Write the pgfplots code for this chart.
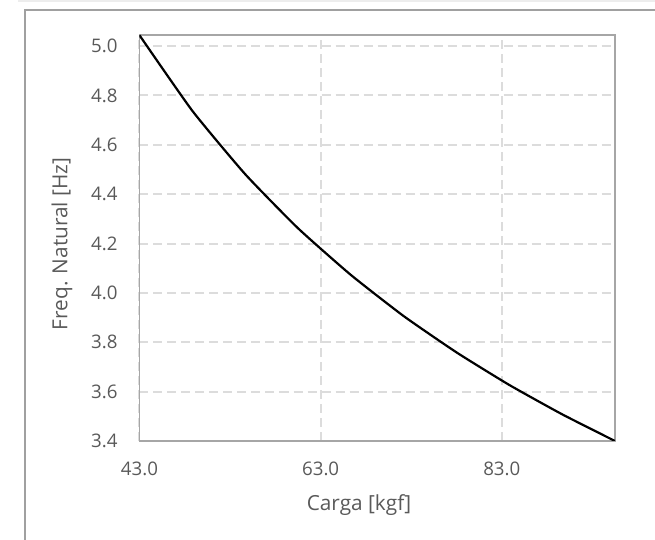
\documentclass[border=0pt]{standalone}
\usepackage{pgfplots}
\pgfplotsset{compat=1.18}
\usepackage{fontspec}
\setmainfont{Open Sans}
\definecolor{txt}{HTML}{595959}
\definecolor{gridc}{HTML}{DCDCDC}
\definecolor{axc}{HTML}{A6A6A6}
\definecolor{border}{HTML}{A0A0A0}
\begin{document}
\begin{tikzpicture}[x=0.5pt,y=0.5pt]
\useasboundingbox (0,0) rectangle (655,540);
\coordinate (A) at (139.5,99);
\draw[color=black!7, line width=0.8pt] (18,539) -- (660,539);
\draw[color=border, line width=1.1pt] (25,-10) -- (25,530) -- (665,530);
\begin{axis}[
  at={(A)}, anchor=south west,
  scale only axis, width=237.75pt, height=203pt,
  xmin=43, xmax=95.5, ymin=3.4, ymax=5.045,
  xtick={43,63,83}, ytick={3.4,3.6,...,5.01},
  xticklabels={43.0,63.0,83.0},
  yticklabel={\pgfmathprintnumber[fixed,fixed zerofill,precision=1]{\tick}},
  /pgf/number format/assume math mode=true,
  major tick length=0pt,
  grid=major,
  major grid style={color=gridc, line width=1pt, dash pattern=on 4.5pt off 2.5pt},
  axis line style={color=axc, line width=0.75pt},
  tick label style={font=\fontsize{9.35}{11}\selectfont, text=txt, inner sep=0pt},
  yticklabel style={anchor=east, xshift=-10.75pt},
  xticklabel style={anchor=center, yshift=-14pt},
  clip=true,
]
\addplot[black, line width=1.1pt, smooth, tension=0.3] coordinates {
(43.00,5.044) (48.83,4.738) (54.67,4.481) (60.50,4.262) (66.33,4.073)
(72.17,3.906) (78.00,3.759) (83.83,3.627) (89.67,3.508) (95.50,3.400)
};
\end{axis}
\node[text=txt, font=\fontsize{10.4}{12}\selectfont, anchor=center] at (359,35) {Carga [kgf]};
\node[text=txt, font=\fontsize{10.4}{12}\selectfont, anchor=center, rotate=90] at (62,296) {Freq. Natural [Hz]};
\end{tikzpicture}
\end{document}
